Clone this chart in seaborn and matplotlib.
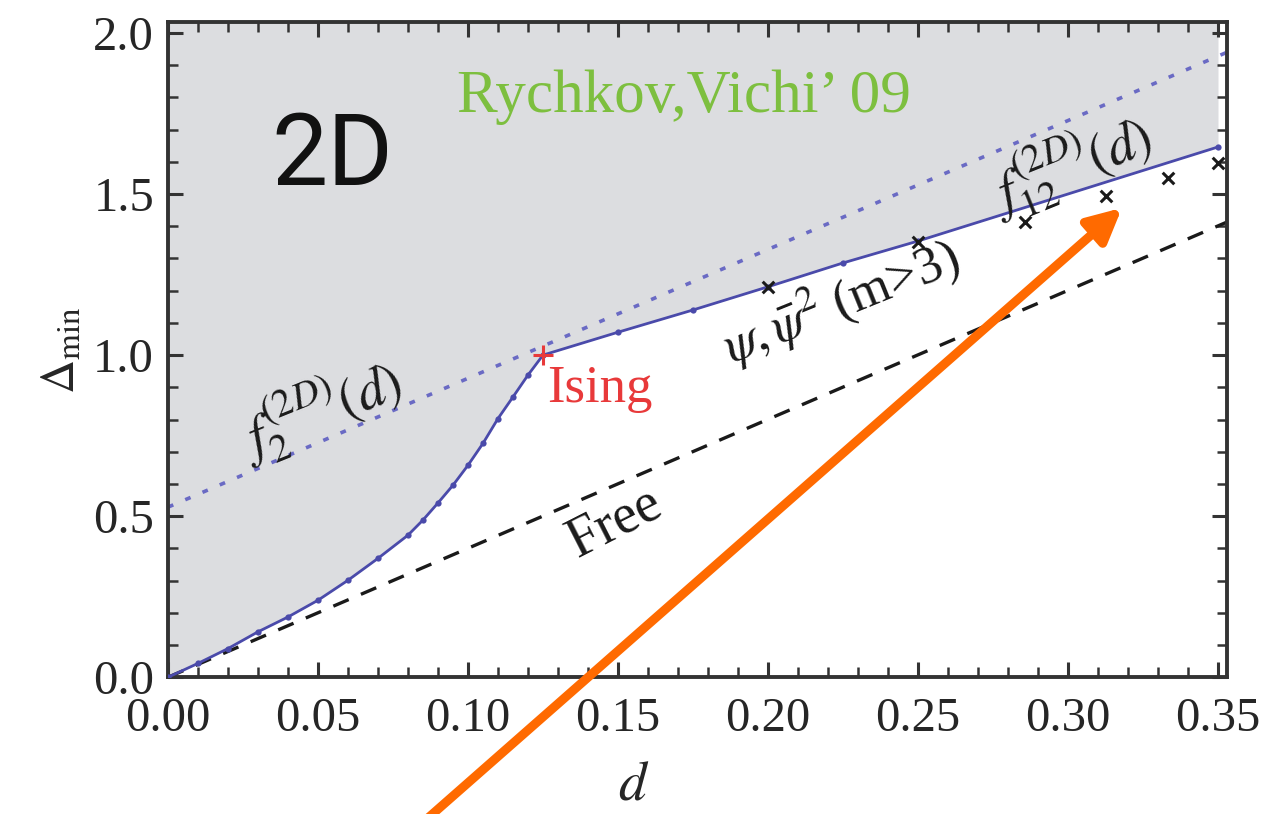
import numpy as np
import pandas as pd
import matplotlib
matplotlib.use("Agg")
import matplotlib.pyplot as plt
import seaborn as sns

# bound curve f(d)
bound_d = [0.0, 0.01, 0.02, 0.03, 0.04, 0.05, 0.06, 0.07, 0.08, 0.085, 0.09, 0.095,
           0.10, 0.105, 0.11, 0.115, 0.12, 0.125, 0.15, 0.175, 0.20, 0.225, 0.25, 0.35]
bound_delta = [0.0, 0.043, 0.089, 0.141, 0.187, 0.239, 0.301, 0.369, 0.441, 0.488, 0.541, 0.596,
               0.658, 0.726, 0.803, 0.870, 0.938, 1.0, 1.071, 1.14, 1.212, 1.286, 1.354, 1.646]

# f2 dotted line and free line
f2_d = [0.0, 0.353]
f2_delta = [0.528, 1.94]
free_d = [0.0, 0.353]
free_delta = [0.0, 1.413]

# minimal models (crosses)
mm_d = [0.20, 0.25, 0.2857, 0.3125, 0.3333, 0.35]
mm_delta = [1.212, 1.352, 1.413, 1.494, 1.55, 1.596]

ising_d = [0.125]
ising_delta = [1.0]

xlim = (0.0, 0.353)
ylim = (0.0, 2.034)

sns.set_theme(style="ticks")
plt.rcParams["font.family"] = ["Liberation Serif", "DejaVu Serif"]
plt.rcParams["mathtext.fontset"] = "stix"
plt.rcParams["xtick.direction"] = "in"
plt.rcParams["ytick.direction"] = "in"

fig = plt.figure(figsize=(12.63, 8.14), dpi=100)
ax = fig.add_axes([0.133, 0.168, 0.8385, 0.805])

bound = pd.DataFrame({"d": bound_d, "delta": bound_delta})
ax.fill_between(bound["d"], bound["delta"], ylim[1], color="#dcdde0", lw=0, zorder=0)

sns.lineplot(x=f2_d, y=f2_delta, ax=ax, color="#6a6ac4", lw=2.6,
             linestyle=(0, (1.6, 3.6)), zorder=2)
sns.lineplot(x=free_d, y=free_delta, ax=ax, color="#1a1a1a", lw=2.4,
             linestyle=(0, (5, 4)), zorder=2)
sns.lineplot(data=bound, x="d", y="delta", ax=ax, color="#4a4aaa", lw=2.0,
             marker="o", markersize=4.5, markeredgewidth=0, zorder=3)
sns.scatterplot(x=mm_d, y=mm_delta, ax=ax, marker="x", color="#1a1a1a", s=70,
                linewidth=2.2, zorder=4)
sns.scatterplot(x=ising_d, y=ising_delta, ax=ax, marker="+", color="#e8393a", s=220,
                linewidth=2.2, zorder=5)

ax.set_xlim(*xlim)
ax.set_ylim(*ylim)
ax.set_xticks(np.arange(0, 0.351, 0.05))
ax.set_xticks(np.arange(0, 0.351, 0.01), minor=True)
ax.set_yticks(np.arange(0, 2.01, 0.5))
ax.set_yticks(np.arange(0, 2.01, 0.1), minor=True)
ax.set_xticklabels([f"{v:.2f}" for v in np.arange(0, 0.351, 0.05)])
ax.set_yticklabels([f"{v:.1f}" for v in np.arange(0, 2.01, 0.5)])
ax.tick_params(which="both", top=True, right=True, color="#333333", labelsize=35)
ax.tick_params(axis="x", pad=14)
ax.tick_params(axis="y", pad=10)
ax.tick_params(which="major", length=11, width=2.2)
ax.tick_params(which="minor", length=7, width=1.8)
for sp in ax.spines.values():
    sp.set_linewidth(2.8)
    sp.set_color("#333333")

ax.set_xlabel("$d$", fontsize=40)
ax.xaxis.set_label_coords(0.44, -0.125)
ax.set_ylabel(r"$\Delta_{\rm min}$", fontsize=34, labelpad=6)

# annotations
ax.text(0.172, 1.80, "Rychkov,Vichi\u2019 09", color="#7dbf3f", fontsize=44,
        ha="center", va="center")
ax.text(0.0547, 1.612, "2D", family="Roboto", fontsize=72, ha="center", va="center",
        color="#111111")
ax.text(0.1263, 0.855, "Ising", color="#e8393a", fontsize=38, ha="left",
        va="baseline")
ax.text(0.149, 0.48, "Free", fontsize=40, rotation=27, ha="center", va="center",
        color="#1a1a1a")
ax.text(0.0507, 0.83, r"$f_2^{(2D)}(d)$", fontsize=40, rotation=22,
        ha="center", va="center", color="#1a1a1a")
ax.text(0.3007, 1.59, r"$f_{12}^{(2D)}(d)$", fontsize=40, rotation=22,
        ha="center", va="center", color="#1a1a1a")
ax.text(0.224, 1.17, r"$\psi,\bar{\psi}^2$ (m>3)", fontsize=38, rotation=22,
        ha="center", va="center", color="#1a1a1a")

ax.annotate("", xy=(0.318, 1.457), xycoords="data",
            xytext=(428, -4), textcoords="figure pixels",
            arrowprops=dict(arrowstyle="-|>", lw=6.5, color="#ff6a00",
                            mutation_scale=50, shrinkA=0, shrinkB=0),
            annotation_clip=False, zorder=6)

fig.savefig("out.png", dpi=100)
